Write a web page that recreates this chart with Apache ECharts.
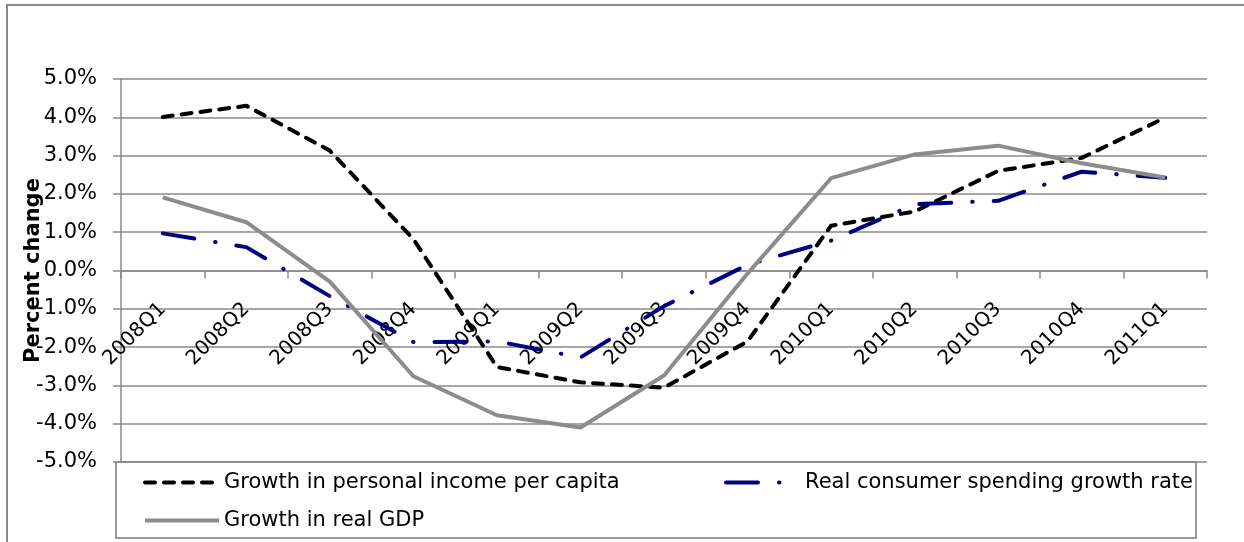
<!DOCTYPE html>
<html>
<head>
<meta charset="utf-8">
<script src="https://cdn.jsdelivr.net/npm/echarts@6/dist/echarts.min.js"></script>
<style>
html,body{margin:0;padding:0;background:#fff;}
#chart{width:1244px;height:542px;}
</style>
</head>
<body>
<div id="chart"></div>
<script>
// ---- data ----
var categories = ['2008Q1','2008Q2','2008Q3','2008Q4','2009Q1','2009Q2','2009Q3','2009Q4','2010Q1','2010Q2','2010Q3','2010Q4','2011Q1'];
var incomeGrowth = [4.01, 4.30, 3.13, 0.82, -2.52, -2.92, -3.06, -1.85, 1.17, 1.54, 2.60, 2.94, 3.99];
var spendingGrowth = [0.97, 0.61, -0.67, -1.87, -1.85, -2.27, -0.93, 0.15, 0.78, 1.73, 1.82, 2.58, 2.42];
var gdpGrowth = [1.91, 1.26, -0.29, -2.76, -3.78, -4.10, -2.74, -0.08, 2.41, 3.03, 3.26, 2.80, 2.43];
var seriesNames = ['Growth in personal income per capita', 'Real consumer spending growth rate', 'Growth in real GDP'];
var yAxisName = 'Percent change';

var FONT = 'DejaVu Sans';
var GRAY = '#8a8a8a';
var dashIncome = [10, 9];
var dashSpending = [32, 21, 0.5, 21];

var chart = echarts.init(document.getElementById('chart'));
var legendText = {fontFamily: FONT, fontSize: 21, color: '#000'};
function legendFor(name, left, top, color, type, cap) {
  return {
    data: [name], left: left, top: top, itemWidth: 74, itemHeight: 14, itemGap: 5,
    padding: 0, textStyle: legendText,
    itemStyle: {opacity: 0, borderWidth: 0},
    lineStyle: {color: color, width: 4, type: type, cap: cap, opacity: 1}
  };
}
chart.setOption({
  animation: false,
  backgroundColor: '#fff',
  grid: {left: 121, right: 37, top: 79, bottom: 80, containLabel: false},
  graphic: [
    {type: 'rect', z: -10, shape: {x: 7, y: 5, width: 1400, height: 700},
     style: {fill: 'none', stroke: GRAY, lineWidth: 2}},
    {type: 'rect', z: 0, shape: {x: 116, y: 462, width: 1080, height: 76},
     style: {fill: '#fff', stroke: '#7a7a7a', lineWidth: 1.5}}
  ],
  legend: [
    legendFor(seriesNames[0], 143, 472, '#000', dashIncome, 'round'),
    legendFor(seriesNames[1], 724, 472, '#000080', dashSpending, 'round'),
    legendFor(seriesNames[2], 143, 510, '#8c8c8c', 'solid', 'butt')
  ],
  xAxis: [{
    type: 'category',
    data: categories,
    boundaryGap: true,
    axisLine: {onZero: true, lineStyle: {color: GRAY, width: 1.5}},
    axisTick: {show: true, length: 8, lineStyle: {color: GRAY, width: 1.5}},
    axisLabel: {show: false},
    splitLine: {show: false}
  }, {
    type: 'category',
    data: categories,
    boundaryGap: true,
    position: 'bottom',
    offset: -192,
    axisLine: {show: false, onZero: false},
    axisTick: {show: false},
    axisLabel: {interval: 0, rotate: 45, margin: 36, align: 'right', verticalAlign: 'middle',
      fontFamily: FONT, fontSize: 20, color: '#000'},
    splitLine: {show: false}
  }],
  yAxis: {
    type: 'value',
    min: -5, max: 5, interval: 1,
    name: yAxisName,
    nameLocation: 'middle',
    nameGap: 77,
    nameMoveOverlap: false,
    nameTextStyle: {fontFamily: FONT, fontSize: 21, fontWeight: 'bold', color: '#000'},
    axisLine: {show: true, lineStyle: {color: GRAY, width: 1.5}},
    axisTick: {show: true, length: 8, lineStyle: {color: GRAY, width: 1.5}},
    axisLabel: {margin: 24, fontFamily: FONT, fontSize: 21, color: '#000',
      formatter: function (v) { return v.toFixed(1) + '%'; }},
    splitLine: {show: true, lineStyle: {color: GRAY, width: 1.5}}
  },
  series: [
    {name: seriesNames[0], type: 'line', data: incomeGrowth, symbol: 'none', showSymbol: false,
     lineStyle: {color: '#000', width: 4, type: dashIncome, cap: 'round', join: 'round'},
     itemStyle: {color: '#000'}, z: 3},
    {name: seriesNames[1], type: 'line', data: spendingGrowth, symbol: 'none', showSymbol: false,
     lineStyle: {color: '#000080', width: 4, type: dashSpending, cap: 'round', join: 'round'},
     itemStyle: {color: '#000080'}, z: 4},
    {name: seriesNames[2], type: 'line', data: gdpGrowth, symbol: 'none', showSymbol: false,
     lineStyle: {color: '#8c8c8c', width: 4, type: 'solid', join: 'round'},
     itemStyle: {color: '#8c8c8c'}, z: 5}
  ]
});
</script>
</body>
</html>
